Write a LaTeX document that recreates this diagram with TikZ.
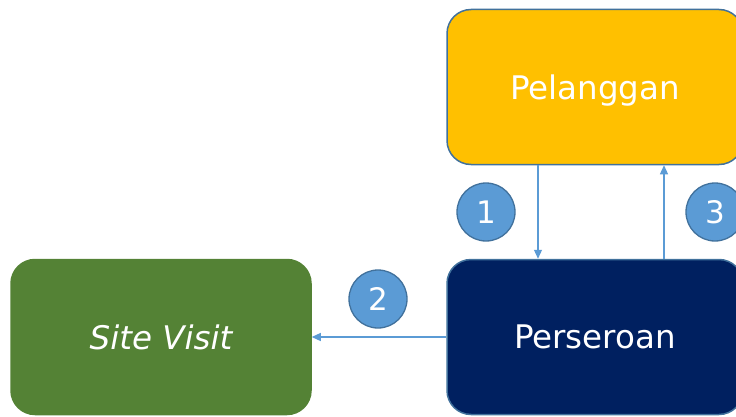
\documentclass[tikz,border=0pt]{standalone}
\usepackage{fontspec}
\setmainfont{DejaVu Sans}
\usetikzlibrary{arrows.meta}
\definecolor{gold}{HTML}{FFC000}
\definecolor{navy}{HTML}{002060}
\definecolor{leaf}{HTML}{548235}
\definecolor{edge}{HTML}{41719C}
\definecolor{lblue}{HTML}{5B9BD5}
\tikzset{
  box/.style={rectangle, rounded corners=24pt, minimum width=296pt, minimum height=155pt, line width=1.5pt, text=white, font=\fontsize{32.5}{38}\selectfont, inner sep=0pt, text depth=0pt},
  badge/.style={circle, fill=lblue, draw=edge, line width=1.3pt, minimum size=58pt, inner sep=0pt, text=white, font=\fontsize{31}{36}\selectfont, text depth=0pt},
  link/.style={draw=lblue, line width=1.2pt, -{Triangle[length=9pt,width=8pt]}}
}
\begin{document}
\begin{tikzpicture}[x=1pt,y=-1pt]
\useasboundingbox (0,0) rectangle (736,417);
\node[box, fill=gold, draw=edge] (pel) at (595,87) {Pelanggan};
\node[box, fill=navy, draw=edge] (per) at (595,337) {Perseroan};
\node[box, fill=leaf, draw=leaf, minimum width=300pt] (site) at (161,337) {\itshape Site Visit};
\node[badge] (b1) at (486,212) {1};
\node[badge] (b2) at (378,299) {2};
\node[badge] (b3) at (715,212) {3};
\draw[link] (pel.south -| 538,0) -- (per.north -| 538,0);
\draw[link] (per.north -| 664,0) -- (pel.south -| 664,0);
\draw[link] (per.west) -- (site.east);
\end{tikzpicture}
\end{document}
